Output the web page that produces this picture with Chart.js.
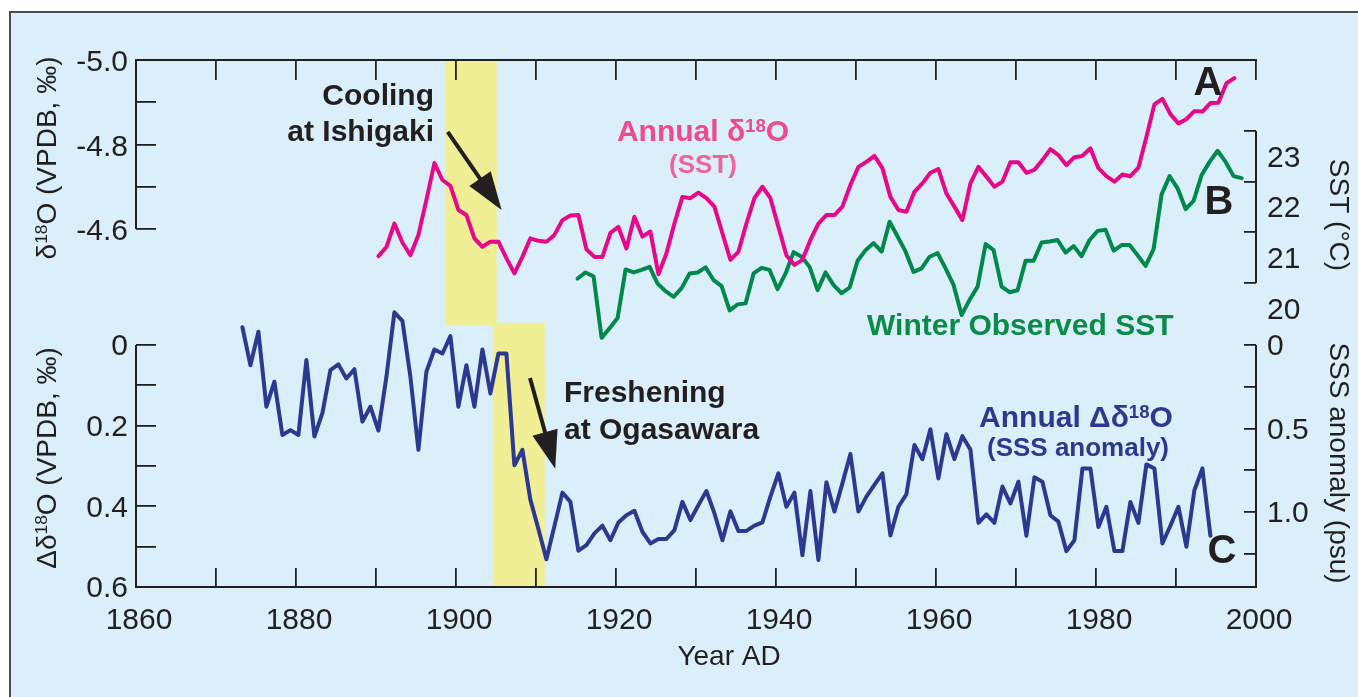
<!DOCTYPE html>
<html>
<head>
<meta charset="utf-8">
<script src="https://cdn.jsdelivr.net/npm/chart.js@4.4.1/dist/chart.umd.min.js"></script>
<style>
  html, body { margin: 0; padding: 0; background: #fff; overflow: hidden; }
  #panel { position: absolute; left: 9px; top: 11px; width: 1380px; height: 720px; background: #dbeffa; border: 2px solid #4d4d4d; }
  #chart { position: absolute; left: 0; top: 0; }
</style>
</head>
<body>
<div id="panel"></div>
<canvas id="chart" width="1358" height="697"></canvas>
<script>
const yearTicks = [1860, 1870, 1880, 1890, 1900, 1910, 1920, 1930, 1940, 1950, 1960, 1970, 1980, 1990, 2000];
const yearLabels = ["1860", "", "1880", "", "1900", "", "1920", "", "1940", "", "1960", "", "1980", "", "2000"];
const d18oTicks = [-5.0, -4.9, -4.8, -4.7, -4.6];
const d18oLabels = ["-5.0", "", "-4.8", "", "-4.6"];
const dd18oTicks = [0, 0.1, 0.2, 0.3, 0.4, 0.5, 0.6];
const dd18oLabels = ["0", "", "0.2", "", "0.4", "", "0.6"];
const sstTicks = [20, 20.5, 21, 21.5, 22, 22.5, 23, 23.5];
const sstLabels = ["20", "", "21", "", "22", "", "23", ""];
const sssTicks = [0, 0.25, 0.5, 0.75, 1.0, 1.25];
const sssLabels = ["0", "", "0.5", "", "1.0", ""];

// annual coral d18O (Ishigaki), first value 1890
const pinkStart = 1890.3;
const pinkD18O = [
  -4.536, -4.557, -4.613, -4.568, -4.538, -4.586, -4.669, -4.756, -4.716, -4.702,
  -4.645, -4.633, -4.578, -4.558, -4.570, -4.570, -4.531, -4.495, -4.534, -4.578,
  -4.572, -4.570, -4.586, -4.621, -4.632, -4.633, -4.552, -4.534, -4.534, -4.591,
  -4.605, -4.554, -4.629, -4.582, -4.594, -4.493, -4.542, -4.613, -4.676, -4.673,
  -4.686, -4.673, -4.653, -4.590, -4.527, -4.546, -4.613, -4.673, -4.700, -4.673,
  -4.605, -4.538, -4.515, -4.527, -4.574, -4.613, -4.633, -4.633, -4.653, -4.704,
  -4.747, -4.759, -4.773, -4.744, -4.676, -4.645, -4.641, -4.688, -4.708, -4.733,
  -4.742, -4.684, -4.653, -4.621, -4.708, -4.747, -4.724, -4.700, -4.712, -4.758,
  -4.758, -4.733, -4.740, -4.763, -4.789, -4.775, -4.751, -4.770, -4.773, -4.791,
  -4.744, -4.725, -4.712, -4.729, -4.725, -4.745, -4.818, -4.895, -4.908, -4.872,
  -4.850, -4.860, -4.879, -4.878, -4.898, -4.899, -4.945, -4.957
];

// winter observed SST (deg C), first value 1915
const greenStart = 1915.2;
const greenSST = [
  20.59, 20.71, 20.63, 19.42, 19.61, 19.81, 20.77, 20.71, 20.76, 20.82,
  20.49, 20.34, 20.23, 20.40, 20.69, 20.71, 20.81, 20.56, 20.44, 19.96,
  20.08, 20.10, 20.69, 20.80, 20.76, 20.38, 20.69, 21.11, 21.02, 20.82,
  20.36, 20.71, 20.46, 20.30, 20.41, 20.94, 21.15, 21.29, 21.12, 21.71,
  21.42, 21.12, 20.72, 20.79, 21.02, 21.09, 20.79, 20.46, 19.87, 20.17,
  20.43, 21.27, 21.15, 20.43, 20.32, 20.36, 20.94, 20.94, 21.30, 21.32,
  21.35, 21.10, 21.23, 21.03, 21.35, 21.53, 21.55, 21.14, 21.25, 21.25,
  21.05, 20.84, 21.17, 22.25, 22.61, 22.37, 21.96, 22.12, 22.63, 22.89,
  23.11, 22.89, 22.61, 22.57
];

// annual delta-d18O (Ogasawara), first value 1873
const blueStart = 1873.3;
const blueDD18O = [
  -0.044, 0.050, -0.033, 0.153, 0.091, 0.223, 0.211, 0.223, 0.037, 0.227,
  0.169, 0.062, 0.048, 0.083, 0.060, 0.190, 0.153, 0.212, 0.079, -0.081,
  -0.060, 0.079, 0.260, 0.066, 0.011, 0.021, -0.022, 0.153, 0.050, 0.153,
  0.011, 0.120, 0.021, 0.021, 0.298, 0.260, 0.384, 0.456, 0.531, 0.449,
  0.366, 0.389, 0.510, 0.496, 0.467, 0.448, 0.484, 0.440, 0.422, 0.411,
  0.463, 0.492, 0.481, 0.481, 0.459, 0.389, 0.434, 0.397, 0.362, 0.417,
  0.484, 0.412, 0.461, 0.461, 0.448, 0.440, 0.376, 0.318, 0.401, 0.366,
  0.521, 0.362, 0.533, 0.340, 0.413, 0.343, 0.270, 0.413, 0.376, 0.347,
  0.318, 0.472, 0.401, 0.370, 0.248, 0.283, 0.209, 0.331, 0.221, 0.283,
  0.226, 0.259, 0.441, 0.420, 0.441, 0.351, 0.393, 0.339, 0.473, 0.328,
  0.339, 0.422, 0.438, 0.511, 0.484, 0.306, 0.306, 0.451, 0.401, 0.511,
  0.511, 0.389, 0.441, 0.296, 0.306, 0.492, 0.448, 0.401, 0.500, 0.360,
  0.306, 0.473
];

const bands = [
  { from: 1898.6, to: 1905.1, axis: "yP", top: -5.0, bottom: -4.373 },
  { from: 1904.6, to: 1911.1, axis: "yB", top: -0.055, bottom: 0.6 }
];
const arrows = [
  { axis: "yP", x1: 1898.96, y1: -4.83, x2: 1905.7, y2: -4.645 },
  { axis: "yB", x1: 1909.25, y1: 0.082, x2: 1912.4, y2: 0.307 }
];

const INK = "#231f20", PINK = "#e8078a", GREEN = "#00894a", NAVY = "#2b3990";
const FAM = "'Liberation Sans', Arial, Helvetica, sans-serif";
const tickFont = { family: FAM, size: 30 };

const toPts = (start, vals) => vals.map((v, i) => ({ x: start + i, y: v }));
const setTicks = (vals) => (s) => { s.ticks = vals.map((v) => ({ value: v })); };
const noW = (s) => { s.width = 0; };
const noH = (s) => { s.height = 0; };

function rich(ctx, parts, x, y, size, weight, align, color) {
  const segs = parts.map((p) =>
    typeof p === "string" ? { t: p, s: size, dy: 0 } : { t: p.sup, s: size * 0.62, dy: -size * 0.2 }
  );
  let w = 0;
  segs.forEach((g) => {
    ctx.font = weight + " " + g.s + "px " + FAM;
    g.w = ctx.measureText(g.t).width;
    w += g.w;
  });
  let cx = align === "center" ? x - w / 2 : align === "right" ? x - w : x;
  ctx.fillStyle = color;
  ctx.textAlign = "left";
  ctx.textBaseline = "middle";
  segs.forEach((g) => {
    ctx.font = weight + " " + g.s + "px " + FAM;
    ctx.fillText(g.t, cx, y + g.dy);
    cx += g.w;
  });
}

function turned(ctx, parts, x, y, angle, size) {
  ctx.save();
  ctx.translate(x, y);
  ctx.rotate(angle);
  rich(ctx, parts, 0, 0, size, "normal", "center", INK);
  ctx.restore();
}

function arrow(ctx, x1, y1, x2, y2) {
  const a = Math.atan2(y2 - y1, x2 - x1);
  const head = 38, half = 13;
  const bx = x2 - head * Math.cos(a), by = y2 - head * Math.sin(a);
  ctx.strokeStyle = INK;
  ctx.fillStyle = INK;
  ctx.lineWidth = 4;
  ctx.beginPath();
  ctx.moveTo(x1, y1);
  ctx.lineTo(bx + 6 * Math.cos(a), by + 6 * Math.sin(a));
  ctx.stroke();
  ctx.beginPath();
  ctx.moveTo(x2, y2);
  ctx.lineTo(bx + half * Math.sin(a), by - half * Math.cos(a));
  ctx.lineTo(bx - half * Math.sin(a), by + half * Math.cos(a));
  ctx.closePath();
  ctx.fill();
}

const decor = {
  id: "decor",
  // scales were fitted with zero size so the plot area is fixed; widen their boxes so tick labels are not clipped
  afterLayout(chart) {
    Object.values(chart.scales).forEach((s) => {
      if (s.position === "left") { s.left = 0; s.width = s.right; }
      if (s.position === "right") { s.right = chart.width; s.width = chart.width - s.left; }
      if (s.position === "bottom") { s.bottom = chart.height; s.height = chart.height - s.top; }
    });
  },
  beforeDraw(chart) {
    const { ctx, scales: s } = chart;
    ctx.save();
    ctx.fillStyle = "#f0ef96";
    bands.forEach((b) => {
      const x1 = s.x.getPixelForValue(b.from), x2 = s.x.getPixelForValue(b.to);
      const y1 = s[b.axis].getPixelForValue(b.top), y2 = s[b.axis].getPixelForValue(b.bottom);
      ctx.fillRect(x1, y1, x2 - x1, y2 - y1);
    });
    ctx.restore();
  },
  afterDraw(chart) {
    const { ctx, chartArea: a, scales: s } = chart;
    ctx.save();
    ctx.strokeStyle = INK;
    ctx.lineWidth = 2;
    const vline = (x, y1, y2) => {
      ctx.beginPath();
      ctx.moveTo(x, y1);
      ctx.lineTo(x, y2);
      ctx.stroke();
    };
    vline(a.left, s.yP.getPixelForValue(d18oTicks[0]), s.yP.getPixelForValue(d18oTicks[d18oTicks.length - 1]));
    vline(a.left, s.yB.getPixelForValue(dd18oTicks[0]), a.bottom);
    vline(a.right, s.ySST.getPixelForValue(23.5), s.ySST.getPixelForValue(20.5));
    vline(a.right, s.ySSS.getPixelForValue(sssTicks[0]), a.bottom);

    arrows.forEach((r) => {
      arrow(ctx, s.x.getPixelForValue(r.x1), s[r.axis].getPixelForValue(r.y1),
        s.x.getPixelForValue(r.x2), s[r.axis].getPixelForValue(r.y2));
    });

    // axis titles
    turned(ctx, ["\u03b4", { sup: "18" }, "O (VPDB, \u2030)"], 48, 158, -Math.PI / 2, 28);
    turned(ctx, ["\u0394\u03b4", { sup: "18" }, "O (VPDB, \u2030)"], 48, 458, -Math.PI / 2, 28);
    turned(ctx, ["SST (\u00b0C)"], 1338, 215, Math.PI / 2, 28);
    turned(ctx, ["SSS anomaly (psu)"], 1338, 463, Math.PI / 2, 28);
    rich(ctx, ["Year AD"], 729, 657, 28, "normal", "center", INK);

    // annotations
    rich(ctx, ["Cooling"], 434, 97, 30, "bold", "right", INK);
    rich(ctx, ["at Ishigaki"], 434, 133, 30, "bold", "right", INK);
    rich(ctx, ["Annual \u03b4", { sup: "18" }, "O"], 703, 133, 30, "bold", "center", "#ee4a8c");
    rich(ctx, ["(SST)"], 703, 166, 26, "bold", "center", "#f0649a");
    rich(ctx, ["Winter Observed SST"], 867, 327, 30, "bold", "left", "#0b8a48");
    rich(ctx, ["Freshening"], 564, 394, 30, "bold", "left", INK);
    rich(ctx, ["at Ogasawara"], 564, 431, 30, "bold", "left", INK);
    rich(ctx, ["Annual \u0394\u03b4", { sup: "18" }, "O"], 1076, 419, 30, "bold", "center", NAVY);
    rich(ctx, ["(SSS anomaly)"], 1078, 449, 26, "bold", "center", NAVY);
    rich(ctx, ["A"], 1208, 84, 40, "bold", "center", INK);
    rich(ctx, ["B"], 1219, 203, 40, "bold", "center", INK);
    rich(ctx, ["C"], 1222, 552, 40, "bold", "center", INK);
    ctx.restore();
  }
};

const line = (pts, color, axis) => ({
  data: pts,
  xAxisID: "x",
  yAxisID: axis,
  borderColor: color,
  borderWidth: 4,
  pointRadius: 0,
  tension: 0,
  borderJoinStyle: "round",
  borderCapStyle: "round",
  fill: false
});

const inward = (len) => ({ drawOnChartArea: false, drawTicks: true, tickLength: len, color: INK, lineWidth: 1.8 });

new Chart(document.getElementById("chart"), {
  type: "line",
  data: {
    datasets: [
      line(toPts(pinkStart, pinkD18O), PINK, "yP"),
      line(toPts(greenStart, greenSST), GREEN, "ySST"),
      line(toPts(blueStart, blueDD18O), NAVY, "yB")
    ]
  },
  options: {
    responsive: false,
    animation: false,
    events: [],
    layout: { padding: { left: 136, right: 102, top: 60, bottom: 110 } },
    plugins: { legend: { display: false }, tooltip: { enabled: false } },
    scales: {
      x: {
        type: "linear", position: "bottom", min: 1860, max: 2000, bounds: "data",
        afterBuildTicks: setTicks(yearTicks), afterFit: noH,
        grid: inward(-19),
        border: { color: INK, width: 2 },
        ticks: { font: tickFont, color: INK, padding: 35, labelOffset: 3, autoSkip: false, maxRotation: 0, callback: (v, i) => yearLabels[i] }
      },
      xTop: {
        type: "linear", position: "top", min: 1860, max: 2000, bounds: "data",
        afterBuildTicks: setTicks(yearTicks), afterFit: noH,
        grid: inward(-20),
        border: { color: INK, width: 2 },
        ticks: { display: false }
      },
      yP: {
        type: "linear", position: "left", reverse: true, min: -5.0, max: -3.7527, bounds: "data",
        afterBuildTicks: setTicks(d18oTicks), afterFit: noW,
        grid: inward(-20),
        border: { display: false },
        ticks: { font: tickFont, color: INK, padding: 28, labelOffset: 3, autoSkip: false, callback: (v, i) => d18oLabels[i] }
      },
      yB: {
        type: "linear", position: "left", reverse: true, min: -0.7067, max: 0.6, bounds: "data",
        afterBuildTicks: setTicks(dd18oTicks), afterFit: noW,
        grid: inward(-20),
        border: { display: false },
        ticks: { font: tickFont, color: INK, padding: 28, labelOffset: 2, autoSkip: false, callback: (v, i) => dd18oLabels[i] }
      },
      ySST: {
        type: "linear", position: "right", min: 14.506, max: 24.9, bounds: "data",
        afterBuildTicks: setTicks(sstTicks), afterFit: noW,
        grid: Object.assign(inward(-12), { tickColor: (c) => (sstLabels[c.index] ? "transparent" : INK) }),
        border: { display: false },
        ticks: { font: tickFont, color: INK, padding: 23, labelOffset: 2, autoSkip: false, callback: (v, i) => sstLabels[i] }
      },
      ySSS: {
        type: "linear", position: "right", reverse: true, min: -1.7066, max: 1.4491, bounds: "data",
        afterBuildTicks: setTicks(sssTicks), afterFit: noW,
        grid: inward(-12),
        border: { display: false },
        ticks: { font: tickFont, color: INK, padding: 23, labelOffset: 2, autoSkip: false, callback: (v, i) => sssLabels[i] }
      }
    }
  },
  plugins: [decor]
});
</script>
</body>
</html>
